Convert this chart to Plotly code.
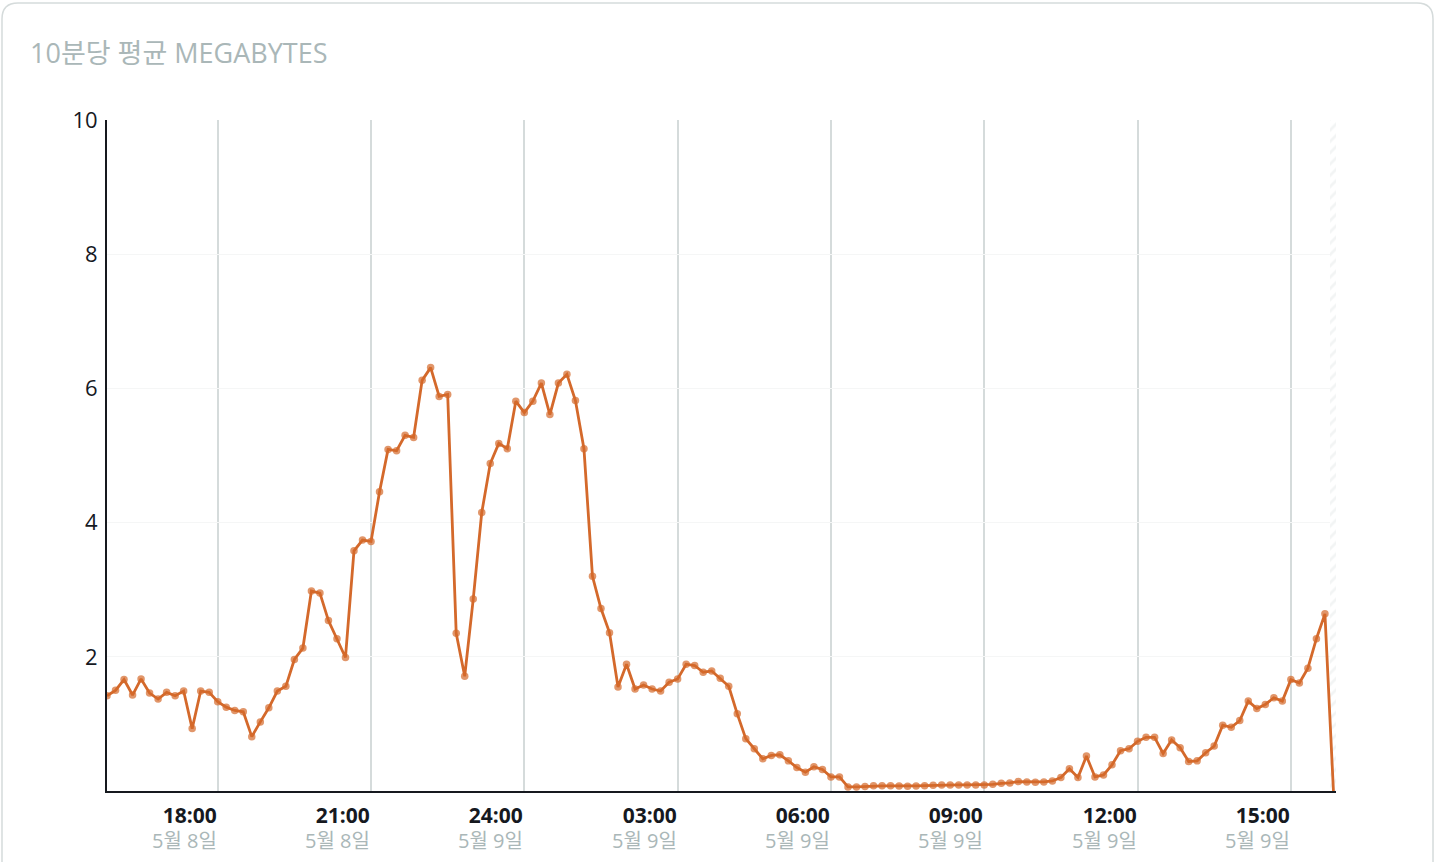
import pandas as pd
import plotly.graph_objects as go

# ---- data ----
start_time = "2024-05-08 15:50"
megabytes = [
    1.42, 1.50, 1.66, 1.43, 1.67, 1.46, 1.37, 1.47, 1.42, 1.49,
    0.93, 1.49, 1.47, 1.33, 1.25, 1.20, 1.18, 0.81, 1.03, 1.24,
    1.49, 1.56, 1.96, 2.13, 2.98, 2.95, 2.54, 2.27, 1.99, 3.58,
    3.74, 3.72, 4.46, 5.09, 5.07, 5.30, 5.27, 6.12, 6.31, 5.88,
    5.91, 2.35, 1.71, 2.86, 4.15, 4.88, 5.18, 5.10, 5.81, 5.64,
    5.81, 6.08, 5.61, 6.08, 6.21, 5.82, 5.10, 3.20, 2.72, 2.36,
    1.55, 1.89, 1.52, 1.58, 1.52, 1.49, 1.62, 1.67, 1.89, 1.87,
    1.77, 1.79, 1.68, 1.56, 1.15, 0.78, 0.63, 0.48, 0.53, 0.54,
    0.45, 0.35, 0.28, 0.36, 0.32, 0.21, 0.21, 0.06, 0.06, 0.067,
    0.077, 0.077, 0.077, 0.075, 0.07, 0.075, 0.08, 0.085, 0.09, 0.09,
    0.09, 0.09, 0.09, 0.09, 0.10, 0.115, 0.12, 0.14, 0.135, 0.13,
    0.135, 0.15, 0.20, 0.33, 0.20, 0.52, 0.21, 0.24, 0.39, 0.60,
    0.63, 0.74, 0.80, 0.80, 0.56, 0.76, 0.645, 0.44, 0.45, 0.57,
    0.67, 0.98, 0.95, 1.05, 1.34, 1.23, 1.29, 1.39, 1.34, 1.66,
    1.61, 1.83, 2.27, 2.64, 0.0,
]
tick_positions = ["2024-05-08 18:00", "2024-05-08 21:00", "2024-05-09 00:00", "2024-05-09 03:00",
                  "2024-05-09 06:00", "2024-05-09 09:00", "2024-05-09 12:00", "2024-05-09 15:00"]
tick_times = ["18:00", "21:00", "24:00", "03:00", "06:00", "09:00", "12:00", "15:00"]
tick_dates = ["5월 8일", "5월 8일", "5월 9일", "5월 9일", "5월 9일", "5월 9일", "5월 9일", "5월 9일"]
y_ticks = [2, 4, 6, 8, 10]
x_range = ["2024-05-08 15:50", "2024-05-09 15:53"]
partial_range = ["2024-05-09 15:46", "2024-05-09 15:53"]
title = "10분당 평균 MEGABYTES"

times = pd.date_range(start_time, periods=len(megabytes), freq="10min")

LINE = "#d4692b"
DARK = "#16191f"
GREY = "#aab7b8"
FONT = "Open Sans, Noto Sans CJK KR, sans-serif"

W, H = 1438, 862
L, R, T, B = 107, 1336, 120, 791

fig = go.Figure()

# hatched "incomplete period" band
fig.add_trace(go.Scatter(
    x=[partial_range[0], partial_range[1], partial_range[1], partial_range[0], partial_range[0]],
    y=[0, 0, 10, 10, 0],
    mode="lines", line=dict(width=0), fill="toself",
    fillcolor="rgba(0,0,0,0)",
    fillpattern=dict(shape="/", fgcolor="#e6e9ea", bgcolor="white", size=8, solidity=0.35),
    hoverinfo="skip", showlegend=False,
))

marker_sizes = [7.5] * (len(megabytes) - 1) + [0]
fig.add_trace(go.Scatter(
    x=times, y=megabytes, mode="lines+markers",
    line=dict(color=LINE, width=2.8),
    marker=dict(color=LINE, size=marker_sizes, line=dict(width=0)),
    showlegend=False,
))

# x labels (right-aligned at tick)
for pos, t, d in zip(tick_positions, tick_times, tick_dates):
    fig.add_annotation(
        x=pos, y=0, xref="x", yref="paper", xanchor="right", yanchor="top",
        yshift=-8, xshift=1, align="right", showarrow=False,
        text=(f"<b><span style='font-size:21px'>{t}</span></b><br>"
              f"<span style='color:{GREY};font-size:20px'>{d}</span>"),
        font=dict(family=FONT, size=19, color=DARK),
    )

# card border (rounded)
def P(px, py):
    a, b = (px - L) / (R - L), (B - py) / (B - T)
    return f"{a:.5f},{b:.5f}"

x0, y0, x1, rad, yb = 2, 3, 1433, 16, 880
path = (f"M {P(x0, yb)} L {P(x0, y0 + rad)} Q {P(x0, y0)} {P(x0 + rad, y0)} "
        f"L {P(x1 - rad, y0)} Q {P(x1, y0)} {P(x1, y0 + rad)} L {P(x1, yb)}")
fig.add_shape(type="path", path=path, xref="paper", yref="paper",
              line=dict(color="#d5dbdb", width=1.5), layer="below")

fig.update_layout(
    width=W, height=H,
    margin=dict(l=L, r=W - R, t=T, b=H - B),
    paper_bgcolor="white", plot_bgcolor="white",
    font=dict(family=FONT, color=DARK, size=21),
    title=dict(text=title, x=30 / W, xanchor="left", xref="container",
               y=1 - 54 / H, yanchor="middle", yref="container",
               font=dict(family=FONT, size=27, color=GREY)),
    xaxis=dict(
        type="date", range=x_range, tickvals=tick_positions, showticklabels=False,
        showgrid=True, gridcolor="#d5dbdb", gridwidth=2,
        showline=True, linecolor=DARK, linewidth=2, zeroline=False, ticks="",
    ),
    yaxis=dict(
        range=[0, 10], tickvals=y_ticks, ticktext=[str(v) for v in y_ticks],
        showgrid=True, gridcolor="#f5f6f6", gridwidth=1,
        showline=True, linecolor=DARK, linewidth=2, zeroline=False, ticks="",
        tickfont=dict(family=FONT, size=22, color=DARK), ticklabelstandoff=3,
    ),
)

fig.write_html("out.html", config={"displayModeBar": False},
               post_script="document.body.style.margin='0';document.body.style.overflow='hidden';")
